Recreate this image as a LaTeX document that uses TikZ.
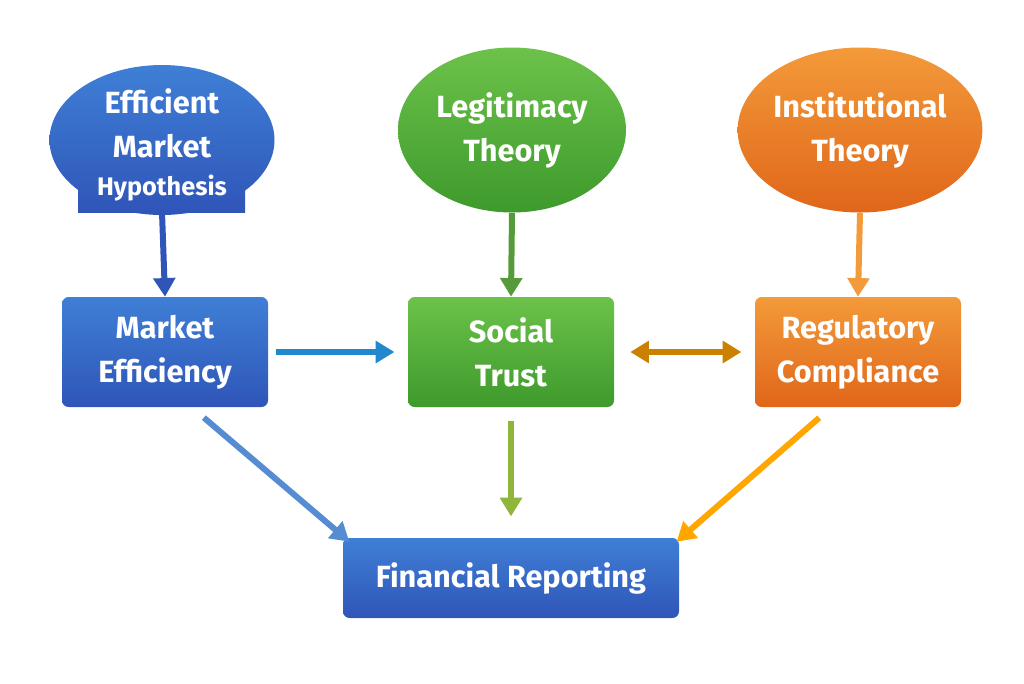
\documentclass[tikz,border=0pt]{standalone}
\usepackage{fontspec}
\setmainfont{Fira Sans}
\usetikzlibrary{arrows.meta,shapes.geometric}
\definecolor{bluedk}{HTML}{2F55B8}
\definecolor{bluelt}{HTML}{3F7FD6}
\definecolor{greendk}{HTML}{3E9A2C}
\definecolor{greenlt}{HTML}{6CC24A}
\definecolor{orangedk}{HTML}{E0661A}
\definecolor{orangelt}{HTML}{F39A3A}
\tikzset{
  theory/.style={ellipse, text=white, font=\fontsize{23}{33}\selectfont\bfseries, align=center, inner sep=0pt},
  concept/.style={rectangle, rounded corners=5pt, text=white, font=\fontsize{23}{33}\selectfont\bfseries, align=center, minimum width=154.5pt, minimum height=82.5pt},
  flow/.style={line width=4.5pt, -{Triangle[length=14pt,width=16pt]}}
}
\begin{document}
\begin{tikzpicture}[x=0.75pt,y=-0.75pt]
\useasboundingbox (0,0) rectangle (1024,683);
% theories
\node[theory, minimum width=225pt*0.75, minimum height=150pt*0.75, top color=bluelt, bottom color=bluedk] (emh) at (162,140) {};
\shade[top color=bluedk!68!bluelt, bottom color=bluedk] (78,168) rectangle (245,212);
\node[text=white, font=\fontsize{23}{33}\selectfont\bfseries, align=center] (emht) at (162,145) {Efficient\\Market\\[-4pt]{\fontsize{19}{22}\selectfont Hypothesis}};
\node[theory, minimum width=228pt*0.75, minimum height=165pt*0.75, top color=greenlt, bottom color=greendk] (leg) at (512,130) {Legitimacy\\Theory};
\node[theory, minimum width=205pt*0.75, minimum height=165pt*0.75, top color=orangelt, bottom color=orangedk] (ins) at (860,130) {Institutional\\Theory};
% concepts
\node[concept, top color=bluelt, bottom color=bluedk] (me) at (165,352) {Market\\Efficiency};
\node[concept, top color=greenlt, bottom color=greendk] (st) at (511,352) {Social\\Trust};
\node[concept, top color=orangelt, bottom color=orangedk] (rc) at (858,352) {Regulatory\\Compliance};
\node[concept, minimum width=252pt, minimum height=60pt, top color=bluelt, bottom color=bluedk] (fr) at (511,578) {Financial Reporting};
% arrows
\draw[flow, bluedk] (162,212) -- (me.north);
\draw[flow, greenlt!80!black] (leg.south) -- (st.north);
\draw[flow, orangelt] (ins.south) -- (rc.north);
\draw[flow, bluedk!70!cyan, shorten <=6pt, shorten >=10pt] (me.east) -- (st.west);
\draw[line width=4.5pt, {Triangle[length=14pt,width=16pt]}-{Triangle[length=14pt,width=16pt]}, orange!60!olive, shorten <=12pt, shorten >=10pt] (st.east) -- (rc.west);
\draw[flow, cyan!50!blue!70, shorten <=12pt] ([xshift=20pt]me.south) -- ([xshift=5pt, yshift=-3pt]fr.north west);
\draw[flow, yellow!60!green!80!black, shorten <=10pt, shorten >=16pt] (st.south) -- (fr.north);
\draw[flow, orange!70!yellow, shorten <=12pt] ([xshift=-20pt]rc.south) -- ([xshift=-2pt, yshift=-3pt]fr.north east);
\end{tikzpicture}
\end{document}
